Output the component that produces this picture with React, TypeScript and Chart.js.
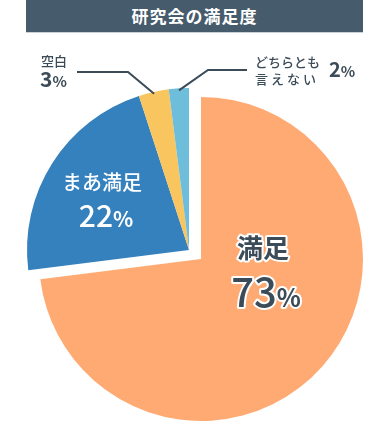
import { useEffect, useRef } from "react";
import { Chart, ArcElement, PieController } from "chart.js";

Chart.register(ArcElement, PieController);

const title = "研究会の満足度";
const categories = ["満足", "まあ満足", "空白", "どちらとも言えない"];
const values = [73, 22, 3, 2];
const percentLabels = ["73", "22", "3", "2"];
const colors = ["#FFAA72", "#3581BE", "#F9C55E", "#6EBEDB"];

const JP = '"Noto Sans CJK JP", "Noto Sans", sans-serif';
const DARK = "#3B4B57";

type Part = { text: string; size: number; weight?: number; spacing?: number };

function drawRich(
  ctx: CanvasRenderingContext2D,
  parts: Part[],
  x: number,
  y: number,
  align: "left" | "center",
  color: string,
  stroke?: string
) {
  ctx.save();
  ctx.textBaseline = "alphabetic";
  ctx.textAlign = "left";
  const widths = parts.map((p) => {
    ctx.font = `${p.weight ?? 500} ${p.size}px ${JP}`;
    (ctx as any).letterSpacing = `${p.spacing ?? 0}px`;
    return ctx.measureText(p.text).width;
  });
  const total = widths.reduce((a, b) => a + b, 0);
  let cx = align === "center" ? x - total / 2 : x;
  parts.forEach((p, i) => {
    ctx.font = `${p.weight ?? 500} ${p.size}px ${JP}`;
    (ctx as any).letterSpacing = `${p.spacing ?? 0}px`;
    if (stroke) {
      ctx.lineJoin = "round";
      ctx.lineWidth = 4;
      ctx.strokeStyle = stroke;
      ctx.strokeText(p.text, cx, y);
    }
    ctx.fillStyle = color;
    ctx.fillText(p.text, cx, y);
    cx += widths[i];
  });
  ctx.restore();
}

const groupShift = {
  id: "groupShift",
  afterDatasetsUpdate(chart: any) {
    const meta = chart.getDatasetMeta(0);
    meta.data.forEach((el: any, i: number) => {
      if (i > 0) {
        el.x -= 12;
        el.y -= 9;
      }
    });
  },
};

const labelsPlugin = {
  id: "pieLabels",
  afterDatasetsDraw(chart: any) {
    const ctx: CanvasRenderingContext2D = chart.ctx;
    const meta = chart.getDatasetMeta(0);
    const o = meta.data[0];
    const b = meta.data[1];
    const y3 = meta.data[2];
    const lb = meta.data[3];

    // 満足 73%
    drawRich(ctx, [{ text: categories[0], size: 26, weight: 700 }], o.x + 62, o.y - 1, "center", DARK, "#ffffff");
    drawRich(
      ctx,
      [
        { text: percentLabels[0], size: 40, weight: 500 },
        { text: "%", size: 25, weight: 600 },
      ],
      o.x + 65,
      o.y + 48,
      "center",
      DARK,
      "#ffffff"
    );

    // まあ満足 22%
    drawRich(ctx, [{ text: categories[1], size: 20, weight: 500 }], b.x - 87, b.y - 60, "center", "#ffffff");
    drawRich(
      ctx,
      [
        { text: percentLabels[1], size: 30, weight: 500 },
        { text: "%", size: 21, weight: 600 },
      ],
      b.x - 83,
      b.y - 23,
      "center",
      "#ffffff"
    );

    // leader lines
    const r = y3.outerRadius;
    const ang3 = (y3.startAngle + y3.endAngle) / 2;
    const angL = (lb.startAngle + lb.endAngle) / 2;
    const p3 = { x: y3.x + Math.cos(ang3) * (r - 2), y: y3.y + Math.sin(ang3) * (r - 2) };
    const pL = { x: lb.x + Math.cos(angL) * (r - 2), y: lb.y + Math.sin(angL) * (r - 2) };
    ctx.save();
    ctx.strokeStyle = DARK;
    ctx.lineWidth = 2;
    ctx.beginPath();
    ctx.moveTo(77, 72);
    ctx.lineTo(128, 72);
    ctx.lineTo(p3.x, p3.y);
    ctx.stroke();
    ctx.beginPath();
    ctx.moveTo(247, 70);
    ctx.lineTo(208, 70);
    ctx.lineTo(pL.x, pL.y);
    ctx.stroke();
    ctx.restore();

    // 空白 3%
    drawRich(ctx, [{ text: categories[2], size: 13, weight: 500 }], 41, 66, "left", DARK);
    drawRich(
      ctx,
      [
        { text: percentLabels[2], size: 21, weight: 600 },
        { text: "%", size: 15, weight: 600 },
      ],
      40,
      87,
      "left",
      DARK
    );

    // どちらとも言えない 2%
    drawRich(ctx, [{ text: categories[3].slice(0, 5), size: 13, weight: 500 }], 255, 67, "left", DARK);
    drawRich(ctx, [{ text: categories[3].slice(5), size: 13, weight: 500, spacing: 3 }], 255, 84, "left", DARK);
    drawRich(
      ctx,
      [
        { text: percentLabels[3], size: 20, weight: 600 },
        { text: "%", size: 15, weight: 600 },
      ],
      329,
      77,
      "left",
      DARK
    );
  },
};

export default function App() {
  const ref = useRef<HTMLCanvasElement | null>(null);
  useEffect(() => {
    if (!ref.current) return;
    const chart = new Chart(ref.current, {
      type: "pie",
      data: {
        labels: categories,
        datasets: [
          {
            data: values,
            backgroundColor: colors,
            borderWidth: 0,
          },
        ],
      },
      options: {
        animation: false,
        responsive: false,
        radius: 162,
        layout: { padding: { left: 12, right: 0, top: 96, bottom: 0 } },
        plugins: {
          legend: { display: false },
          tooltip: { enabled: false },
        },
      } as any,
      plugins: [groupShift, labelsPlugin],
    });
    return () => chart.destroy();
  }, []);

  return (
    <div style={{ position: "absolute", left: 0, top: 0, width: 390, height: 422, background: "#ffffff" }}>
      <canvas ref={ref} width={390} height={422} style={{ position: "absolute", left: 0, top: 0 }} />
      <div
        style={{
          position: "absolute",
          left: 26,
          top: 0,
          width: 337,
          height: 32,
          background: "#465B6C",
          borderBottom: "1px solid #c9d1d8",
          color: "#ffffff",
          fontFamily: JP,
          fontWeight: 700,
          fontSize: 17,
          letterSpacing: 1,
          lineHeight: "32px",
          textAlign: "center",
        }}
      >
        {title}
      </div>
    </div>
  );
}
